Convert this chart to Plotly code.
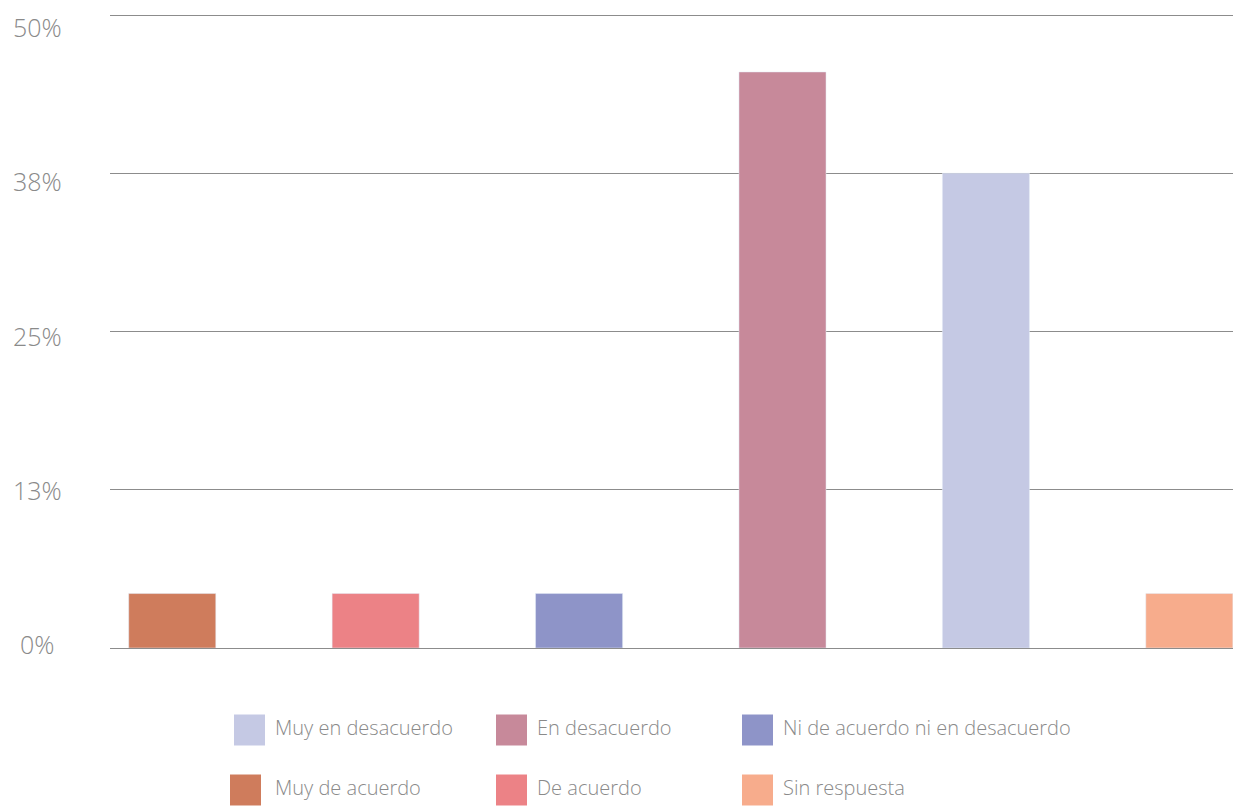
import plotly.graph_objects as go

# survey answers, shares in %
categories = ['Muy de acuerdo', 'De acuerdo', 'Ni de acuerdo ni en desacuerdo',
              'En desacuerdo', 'Muy en desacuerdo', 'Sin respuesta']
shares = [4.3, 4.3, 4.3, 45.5, 37.5, 4.3]
colors = ['#CF7C5C', '#EC8286', '#8E94C8', '#C7899A', '#C5C9E4', '#F7AC8C']

tick_vals = [0, 12.5, 25, 37.5, 50]
tick_text = ['0%', '13%', '25%', '38%', '50%']

legend_order = ['Muy en desacuerdo', 'En desacuerdo', 'Ni de acuerdo ni en desacuerdo',
                'Muy de acuerdo', 'De acuerdo', 'Sin respuesta']

FONT = 'Open Sans'
GREY = '#8a8a8a'

# page has an 8px body margin, so the figure is shifted by 8px
OFF = 8
W, H = 1241, 806
TOP = 5  # extra headroom above the 50% line (page px)
M = dict(l=110 - OFF, r=OFF, t=15 - OFF - TOP, b=H - (648 - OFF))
pw, ph = W - M['l'] - M['r'], H - M['t'] - M['b']
y_top = 50 * ph / (ph - TOP)


def px_x(x):
    # page pixel -> paper coordinate
    return (x - OFF - M['l']) / pw


def px_y(y):
    return (H - M['b'] - (y - OFF)) / ph


fig = go.Figure()
for cat, val, col in zip(categories, shares, colors):
    fig.add_trace(go.Bar(x=[cat], y=[val], name=cat, marker_color=col,
                         width=0.428, showlegend=False))

# y tick labels as annotations; the labels sit on a slightly squeezed scale
# (top label hangs just under its gridline, bottom one just above)
for v, t in zip(tick_vals, tick_text):
    fig.add_annotation(xref='paper', yref='y', x=px_x(37), y=0.3 + 0.975 * v,
                       text=t, showarrow=False, xanchor='center', yanchor='middle',
                       font=dict(family=FONT, size=25, color=GREY, weight=300))

# custom legend with big square swatches
col_x = [234, 496, 742]
row_y = [730, 790]
for i, name in enumerate(legend_order):
    r, c = divmod(i, 3)
    x0 = col_x[c] - (4 if (r == 1 and c == 0) else 0)
    cy = row_y[r]
    fig.add_shape(type='rect', xref='paper', yref='paper',
                  x0=px_x(x0), x1=px_x(x0 + 31),
                  y0=px_y(cy + 15.5), y1=px_y(cy - 15.5),
                  fillcolor=colors[categories.index(name)], line_width=0)
    fig.add_annotation(xref='paper', yref='paper', x=px_x(col_x[c] + 39), y=px_y(cy - 3),
                       text=name, showarrow=False, xanchor='left', yanchor='middle',
                       font=dict(family=FONT, size=20, color=GREY, weight=300))

fig.update_layout(
    width=W, height=H, margin=M,
    plot_bgcolor='white', paper_bgcolor='white',
    barmode='overlay', showlegend=False,
    font=dict(family=FONT, color=GREY, weight=300),
    xaxis=dict(categoryorder='array', categoryarray=categories,
               range=[-0.306, 5.254], showticklabels=False,
               showgrid=False, zeroline=False, fixedrange=True),
    yaxis=dict(range=[0, y_top], tickvals=tick_vals, showticklabels=False,
               showgrid=True, gridcolor='#8c8c8c', gridwidth=1,
               zeroline=True, zerolinecolor='#8c8c8c', zerolinewidth=1,
               automargin=False, fixedrange=True),
)

fig.write_html('out.html')
